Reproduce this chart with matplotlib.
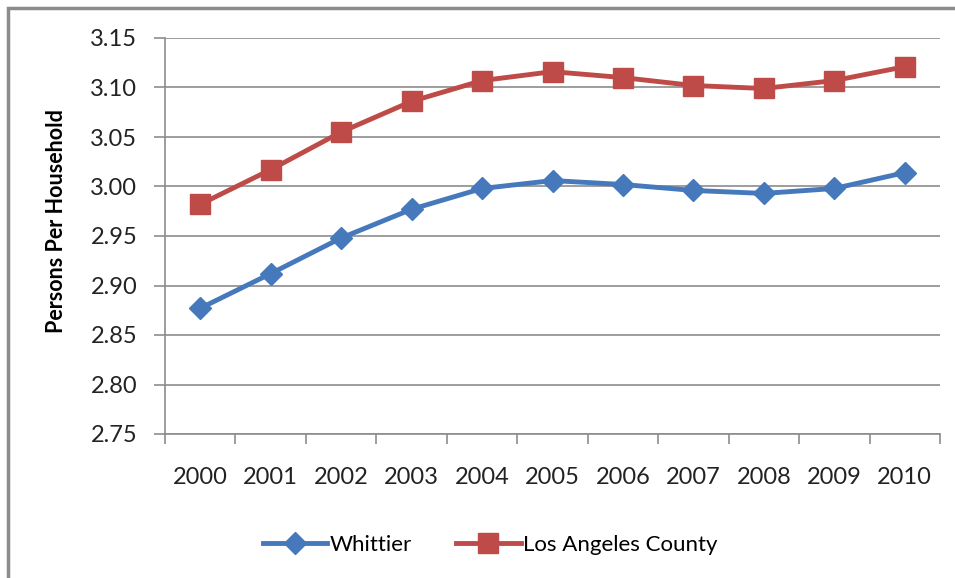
import matplotlib.pyplot as plt
from matplotlib.patches import Rectangle

years = ['2000', '2001', '2002', '2003', '2004', '2005', '2006', '2007', '2008', '2009', '2010']
whittier = [2.877, 2.912, 2.948, 2.977, 2.998, 3.006, 3.002, 2.996, 2.993, 2.998, 3.014]
la_county = [2.982, 3.017, 3.055, 3.086, 3.107, 3.116, 3.110, 3.102, 3.099, 3.107, 3.121]
y_ticks = [2.75, 2.80, 2.85, 2.90, 2.95, 3.00, 3.05, 3.10, 3.15]

plt.rcParams['font.family'] = ['Lato', 'DejaVu Sans']

fig = plt.figure(figsize=(9.55, 5.78), dpi=100)
# рамка вокруг всей диаграммы (уходит за правый и нижний край)
fig.patches.append(Rectangle((8 / 955, -0.05), 1.0, 1 - 8 / 578 + 0.05,
                             transform=fig.transFigure, fill=False,
                             edgecolor='#8c8c8c', linewidth=2.5))

ax = fig.add_axes([165 / 955, 1 - 434 / 578, 775 / 955, 396 / 578])
x = list(range(len(years)))

ax.plot(x, whittier, color='#4579BB', linewidth=3.5, marker='D', markersize=11,
        label='Whittier', zorder=3)
ax.plot(x, la_county, color='#BE4B48', linewidth=3.5, marker='s', markersize=14,
        label='Los Angeles County', zorder=3)

ax.set_xlim(-0.5, len(years) - 0.5)
ax.set_ylim(2.75, 3.15)
ax.set_yticks(y_ticks)
ax.set_yticklabels(['%.2f' % v for v in y_ticks])
ax.set_xticks(x)
ax.set_xticklabels(years)
ax.set_xticks([i - 0.5 for i in range(len(years) + 1)], minor=True)

ax.grid(axis='y', color='#8c8c8c', linewidth=1.2)
ax.set_axisbelow(True)
for side in ['top', 'right']:
    ax.spines[side].set_visible(False)
for side in ['left', 'bottom']:
    ax.spines[side].set_color('#8c8c8c')
    ax.spines[side].set_linewidth(1.2)

ax.tick_params(axis='y', length=8, color='#8c8c8c', width=1.2, labelsize=17,
               pad=12, labelcolor='#222222')
ax.tick_params(axis='x', which='major', length=0, labelsize=17, pad=24,
               labelcolor='#222222')
ax.tick_params(axis='x', which='minor', length=7, color='#8c8c8c', width=1.2)

ax.set_ylabel('Persons Per Household', fontsize=15.5, fontweight='bold')
ax.yaxis.set_label_coords(-0.1265, 0.538)

ax.legend(loc='center', bbox_to_anchor=(490 / 955, 1 - 545 / 578),
          bbox_transform=fig.transFigure, ncol=2, frameon=False, fontsize=16,
          handlelength=2.9, handletextpad=0.1, columnspacing=2.0)

plt.savefig('out.png', dpi=100)
